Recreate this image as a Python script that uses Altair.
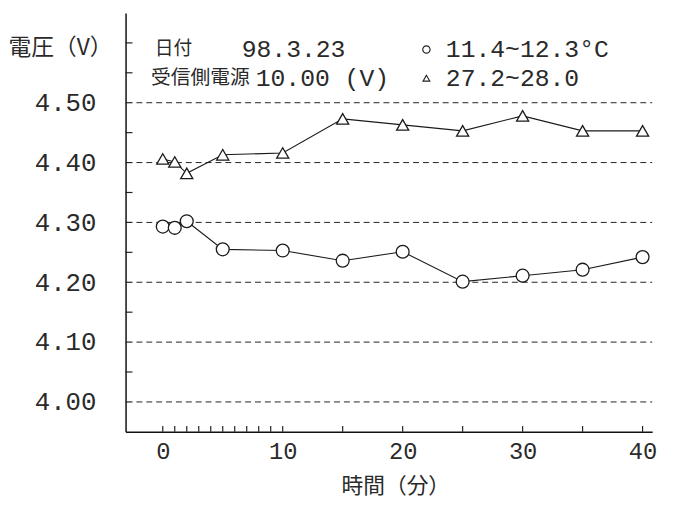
import altair as alt
import pandas as pd

# ---- data ----
times = [0, 1, 2, 5, 10, 15, 20, 25, 30, 35, 40]
volts_low = [4.293, 4.291, 4.302, 4.255, 4.253, 4.236, 4.251, 4.201, 4.211, 4.221, 4.242]
volts_high = [4.406, 4.401, 4.382, 4.413, 4.416, 4.473, 4.463, 4.453, 4.478, 4.453, 4.453]
series_names = ["11.4~12.3°C", "27.2~28.0"]
series_shapes = ["circle", "triangle-up"]

y_label_values = [4.00, 4.10, 4.20, 4.30, 4.40, 4.50]
y_tick_values = [4.00, 4.05, 4.10, 4.15, 4.20, 4.25, 4.30, 4.35, 4.40, 4.45, 4.50, 4.55, 4.60]
x_label_values = [0, 10, 20, 30, 40]
x_tick_values = [0, 1, 2, 3, 4, 5, 6, 7, 8, 9, 10, 15, 20, 25, 30, 35, 40]

date_label = "日付"
date_value = "98.3.23"
supply_label = "受信側電源"
supply_value = "10.00 (V)"
y_title = "電圧（V）"
x_title = "時間（分）"

# ---- tables ----
df = pd.DataFrame({
    "t": times * 2,
    "v": volts_low + volts_high,
    "series": [series_names[0]] * len(times) + [series_names[1]] * len(times),
})
grid_df = pd.DataFrame({"v": y_label_values})
ytick_df = pd.DataFrame({"v": y_tick_values})
xtick_df = pd.DataFrame({"t": x_tick_values})

W, H = 533, 424
MONO = "Liberation Mono"
CJK = "Noto Sans CJK JP"
INK = "#2a2a2a"

xs = alt.Scale(domain=[-3.1, 40.8], nice=False, zero=False)
ys = alt.Scale(domain=[3.95, 4.65], nice=False, zero=False)

x_axis = alt.Axis(
    values=x_label_values, title=x_title, grid=False, ticks=False,
    labelFont=MONO, labelFontSize=24, labelColor=INK, labelPadding=8,
    domainColor="#111111", domainWidth=1.5,
    titleFont=CJK, titleFontSize=22, titleFontWeight="normal", titleColor=INK,
    titleX=273, titleY=54, titleBaseline="middle", titleAnchor="middle",
)
y_axis = alt.Axis(
    values=y_label_values, format=".2f", title=y_title, grid=False, ticks=False,
    labelFont=MONO, labelFontSize=26, labelColor=INK, labelPadding=30,
    domainColor="#111111", domainWidth=1.5,
    titleFont=CJK, titleFontSize=23, titleFontWeight="normal", titleColor=INK,
    titleAngle=0, titleX=-119, titleY=35, titleAlign="left", titleBaseline="middle",
)

base = alt.Chart(df)

lines = base.mark_line(color="#1a1a1a", strokeWidth=1.1).encode(
    x=alt.X("t:Q", scale=xs, axis=x_axis),
    y=alt.Y("v:Q", scale=ys, axis=y_axis),
    detail="series:N",
)

points = base.mark_point(filled=True, fill="white", stroke="#1a1a1a",
                         strokeWidth=1.3, opacity=1).encode(
    x=alt.X("t:Q", scale=xs),
    y=alt.Y("v:Q", scale=ys),
    shape=alt.Shape("series:N", scale=alt.Scale(domain=series_names, range=series_shapes), legend=None),
    size=alt.Size("series:N", scale=alt.Scale(domain=series_names, range=[170, 150]), legend=None),
)

grid = alt.Chart(grid_df).mark_rule(color="#222222", strokeWidth=1, strokeDash=[6, 4]).encode(
    y=alt.Y("v:Q", scale=ys),
    x=alt.value(11),
    x2=alt.value(W),
)

yticks = alt.Chart(ytick_df).mark_rule(color="#222222", strokeWidth=1.2).encode(
    y=alt.Y("v:Q", scale=ys),
    x=alt.value(0),
    x2=alt.value(7),
)

xticks = alt.Chart(xtick_df).mark_rule(color="#222222", strokeWidth=1.2).encode(
    x=alt.X("t:Q", scale=xs),
    y=alt.value(H),
    y2=alt.value(H - 6),
)

one = alt.Data(values=[{}])
row1_v, row2_v = 4.589, 4.541


def note(text, t, v, font, size):
    return alt.Chart(one).mark_text(
        text=text, font=font, fontSize=size, color=INK, align="left", baseline="middle"
    ).encode(x=alt.X("tx:Q", scale=xs), y=alt.Y("ty:Q", scale=ys)).transform_calculate(
        tx=str(t), ty=str(v)
    )


def legend_symbol(shape, size, t, v):
    return alt.Chart(one).mark_point(
        shape=shape, size=size, filled=False, color="#222222", strokeWidth=1.2, opacity=1
    ).encode(x=alt.X("tx:Q", scale=xs), y=alt.Y("ty:Q", scale=ys)).transform_calculate(
        tx=str(t), ty=str(v)
    )


notes = [
    note(date_label, -0.66, row1_v, CJK, 19),
    note(date_value, 6.58, row1_v, MONO, 25),
    note(series_names[0], 23.6, row1_v, MONO, 25),
    note(supply_label, -0.99, row2_v, CJK, 20),
    note(supply_value, 7.75, row2_v, MONO, 25),
    note(series_names[1], 23.6, row2_v, MONO, 25),
    legend_symbol(series_shapes[0], 55, 21.98, row1_v),
    legend_symbol(series_shapes[1], 45, 21.98, row2_v),
]

chart = alt.layer(grid, yticks, xticks, lines, points, *notes).properties(
    width=W,
    height=H,
    autosize=alt.AutoSizeParams(type="none"),
    padding={"left": 119, "top": 2, "right": 14, "bottom": 70},
    background="white",
).configure_view(stroke=None)

chart.save("out.html", embed_options={"renderer": "svg", "actions": False})
